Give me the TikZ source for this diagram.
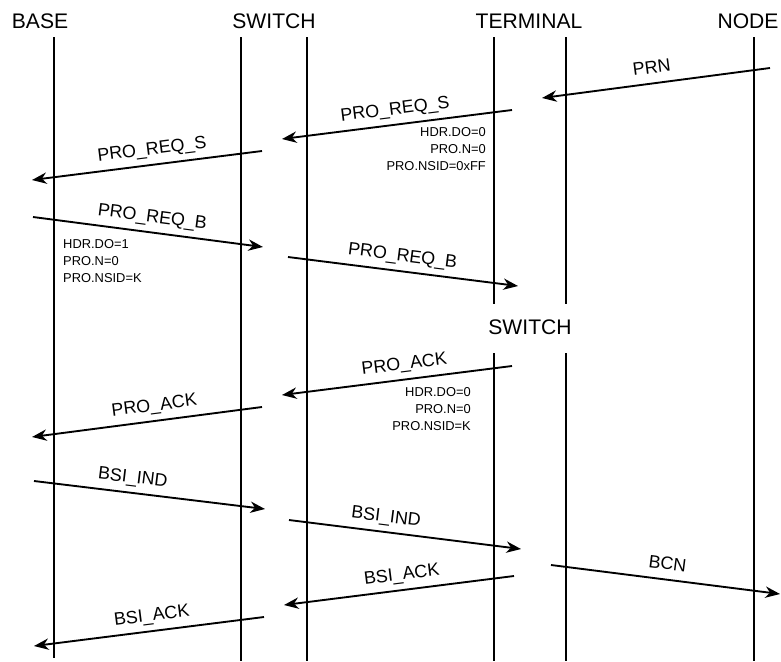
\documentclass[tikz,border=0pt]{standalone}
\usepackage{fontspec}
\setmainfont{Liberation Sans}
\usetikzlibrary{arrows.meta}

\begin{document}
\begin{tikzpicture}[x=0.03cm,y=-0.03cm,
    lifeline/.style={line width=2.3pt},
    msg/.style={line width=1.6pt,-{Stealth[length=0.44cm,width=0.34cm,inset=0.14cm]}},
    msglbl/.style={sloped,above,inner sep=4pt,text depth=3.8pt,font=\fontsize{15.3}{18}\selectfont},
    hdr/.style={font=\fontsize{18}{22}\selectfont,inner sep=0pt},
    params/.style={font=\fontsize{11}{14.5}\selectfont,inner sep=0pt,align=#1},
    params/.default=left]
    \useasboundingbox (0,0) rectangle (781,661);
    % headers
    \node[hdr] (base) at (40,21) {BASE};
    \node[hdr] (switch) at (274,21) {SWITCH};
    \node[hdr] (terminal) at (529,21) {TERMINAL};
    \node[hdr] (nodehdr) at (748,21) {NODE};
    \node[hdr] (switchmid) at (530,327) {SWITCH};
    % lifelines
    \draw[lifeline] (54,37) -- (54,658);
    \foreach \x in {241,307,754}
      \draw[lifeline] (\x,37) -- (\x,661);
    \foreach \x in {494,566} {
      \draw[lifeline] (\x,37) -- (\x,304);
      \draw[lifeline] (\x,353) -- (\x,661);
    }
    % message ends
    \coordinate (prn-a) at (770,68);      \coordinate (prn-b) at (542,98);
    \coordinate (reqs1-a) at (512,110);   \coordinate (reqs1-b) at (282,139);
    \coordinate (reqs2-a) at (262,151);   \coordinate (reqs2-b) at (32,180);
    \coordinate (reqb1-a) at (33,217);    \coordinate (reqb1-b) at (263,247);
    \coordinate (reqb2-a) at (288,257);   \coordinate (reqb2-b) at (518,286);
    \coordinate (ack1-a) at (512,366);    \coordinate (ack1-b) at (282,395);
    \coordinate (ack2-a) at (262,407);    \coordinate (ack2-b) at (32,437);
    \coordinate (ind1-a) at (34,481);     \coordinate (ind1-b) at (265,509);
    \coordinate (ind2-a) at (289,520);    \coordinate (ind2-b) at (521,549);
    \coordinate (back1-a) at (514,576);   \coordinate (back1-b) at (284,605);
    \coordinate (bcn-a) at (551,565);     \coordinate (bcn-b) at (780,594);
    \coordinate (back2-a) at (264,617);   \coordinate (back2-b) at (34,646);
    % messages
    \draw[msg] (prn-a) -- node[msglbl,pos=0.51] {PRN} (prn-b);
    \draw[msg] (reqs1-a) -- node[msglbl,pos=0.5] {PRO\_REQ\_S} (reqs1-b);
    \draw[msg] (reqs2-a) -- node[msglbl,pos=0.47] {PRO\_REQ\_S} (reqs2-b);
    \draw[msg] (reqb1-a) -- node[msglbl,pos=0.51] {PRO\_REQ\_B} (reqb1-b);
    \draw[msg] (reqb2-a) -- node[msglbl,pos=0.49] {PRO\_REQ\_B} (reqb2-b);
    \draw[msg] (ack1-a) -- node[msglbl,pos=0.46] {PRO\_ACK} (ack1-b);
    \draw[msg] (ack2-a) -- node[msglbl,pos=0.46] {PRO\_ACK} (ack2-b);
    \draw[msg] (ind1-a) -- node[msglbl,pos=0.42] {BSI\_IND} (ind1-b);
    \draw[msg] (ind2-a) -- node[msglbl,pos=0.41] {BSI\_IND} (ind2-b);
    \draw[msg] (back1-a) -- node[msglbl,pos=0.48] {BSI\_ACK} (back1-b);
    \draw[msg] (bcn-a) -- node[msglbl,pos=0.5] {BCN} (bcn-b);
    \draw[msg] (back2-a) -- node[msglbl,pos=0.48] {BSI\_ACK} (back2-b);
    % message fields
    \node[params=right,anchor=east] (fields1) at (486,149) {HDR.DO=0\\PRO.N=0\\PRO.NSID=0xFF};
    \node[params,anchor=west] (fields2) at (63,261) {HDR.DO=1\\PRO.N=0\\PRO.NSID=K};
    \node[params=right,anchor=east] (fields3) at (471,409) {HDR.DO=0\\PRO.N=0\\PRO.NSID=K};
\end{tikzpicture}
\end{document}
